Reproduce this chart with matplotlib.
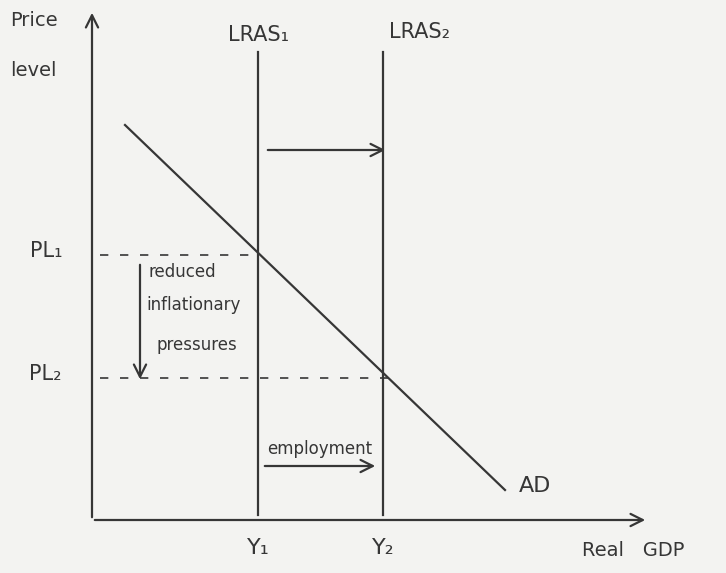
import matplotlib.pyplot as plt

# values in diagram units (origin at the axes corner)
y_labels = ["Y₁", "Y₂"]
lras_x = [166, 291]          # LRAS1, LRAS2 positions on real GDP axis
lras_labels = ["LRAS₁", "LRAS₂"]
pl_labels = ["PL₁", "PL₂"]
pl_values = [265, 142]       # PL1, PL2 on price level axis
ad_x = [33, 413]
ad_y = [395, 30]

ink = "#363636"
bg = "#f3f3f1"

fig = plt.figure(figsize=(7.26, 5.73), dpi=100, facecolor=bg)
ax = fig.add_axes([92 / 726, 53 / 573, 556 / 726, 510 / 573])
ax.set_facecolor(bg)
ax.set_xlim(0, 556)
ax.set_ylim(0, 510)
ax.axis("off")

arrow = dict(arrowstyle="->", color=ink, lw=1.6, mutation_scale=22)

# axes with arrow heads
ax.annotate("", xy=(0, 510), xytext=(0, 0), arrowprops=arrow, annotation_clip=False)
ax.annotate("", xy=(556, 0), xytext=(0, 0), arrowprops=arrow, annotation_clip=False)

# LRAS curves
for x in lras_x:
    ax.plot([x, x], [5, 468], color=ink, lw=1.6)
ax.text(lras_x[0], 475, lras_labels[0], ha="center", va="bottom", fontsize=15, color=ink)
ax.text(lras_x[1] + 37, 478, lras_labels[1], ha="center", va="bottom", fontsize=15, color=ink)

# AD curve
ax.plot(ad_x, ad_y, color=ink, lw=1.6)
ax.text(ad_x[1] + 14, ad_y[1] + 4, "AD", fontsize=16, color=ink, va="center")

# price level dashed lines
ax.plot([8, lras_x[0]], [pl_values[0]] * 2, color=ink, lw=1.2, ls=(0, (5, 7)))
ax.plot([8, lras_x[1] + 10], [pl_values[1]] * 2, color=ink, lw=1.2, ls=(0, (5, 7)))
for v, lab in zip(pl_values, pl_labels):
    ax.text(-30, v + 4, lab, ha="right", va="center", fontsize=15, color=ink)

# Y labels
for x, lab in zip(lras_x, y_labels):
    ax.text(x, -18, lab, ha="center", va="top", fontsize=16, color=ink)

# shift arrows
ax.annotate("", xy=(296, 370), xytext=(173, 370), arrowprops=arrow)
ax.annotate("", xy=(286, 54), xytext=(170, 54), arrowprops=arrow)
ax.text(228, 62, "employment", ha="center", va="bottom", fontsize=12, color=ink)

# reduced inflationary pressures
ax.annotate("", xy=(48, 138), xytext=(48, 258), arrowprops=arrow)
ax.text(56, 248, "reduced", ha="left", va="center", fontsize=12, color=ink)
ax.text(54, 215, "inflationary", ha="left", va="center", fontsize=12, color=ink)
ax.text(64, 175, "pressures", ha="left", va="center", fontsize=12, color=ink)

# axis titles
ax.text(-82, 500, "Price", ha="left", va="center", fontsize=14, color=ink)
ax.text(-82, 450, "level", ha="left", va="center", fontsize=14, color=ink)
ax.text(490, -30, "Real   GDP", ha="left", va="center", fontsize=14, color=ink)

fig.savefig("out.png", dpi=100, facecolor=bg)
